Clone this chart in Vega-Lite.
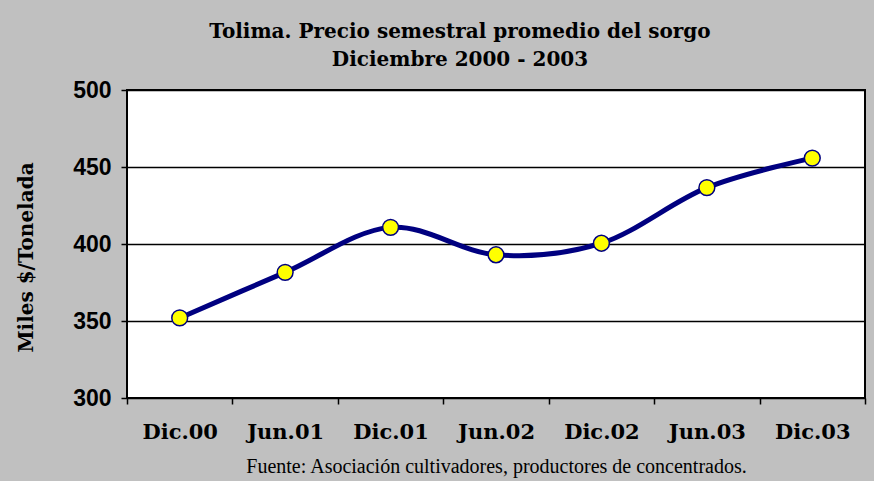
{
  "$schema": "https://vega.github.io/schema/vega-lite/v6.json",
  "autosize": "none",
  "width": 738,
  "height": 308,
  "padding": {"left": 127, "top": 90, "right": 9, "bottom": 83},
  "background": "#C0C0C0",
  "title": {
    "text": ["Tolima. Precio semestral promedio del sorgo", "Diciembre 2000 - 2003"],
    "font": "DejaVu Serif",
    "fontSize": 20,
    "fontWeight": "bold",
    "color": "#000000",
    "anchor": "middle",
    "dx": -36,
    "offset": 9,
    "lineHeight": 28
  },
  "config": {
    "view": {"fill": "#FFFFFF", "stroke": "#000000", "strokeWidth": 2}
  },
  "data": {
    "values": [
      {"periodo": "Dic.00", "precio": 352},
      {"periodo": "Jun.01", "precio": 381.6},
      {"periodo": "Dic.01", "precio": 410.8},
      {"periodo": "Jun.02", "precio": 393},
      {"periodo": "Dic.02", "precio": 400.5},
      {"periodo": "Jun.03", "precio": 436.6},
      {"periodo": "Dic.03", "precio": 455.8}
    ]
  },
  "encoding": {
    "x": {
      "field": "periodo",
      "type": "nominal",
      "sort": null,
      "scale": {"type": "band", "paddingInner": 0, "paddingOuter": 0},
      "axis": {
        "title": "Fuente: Asociación cultivadores, productores de concentrados.",
        "titleFont": "Liberation Serif",
        "titleFontWeight": "normal",
        "titleFontSize": 20,
        "titleColor": "#000000",
        "titlePadding": 14,
        "labelAngle": 0,
        "labelFont": "DejaVu Serif",
        "labelFontWeight": "bold",
        "labelFontSize": 21,
        "labelColor": "#000000",
        "labelPadding": 17,
        "tickBand": "extent",
        "tickColor": "#000000",
        "tickWidth": 1.5,
        "tickSize": 6,
        "domain": false,
        "grid": false
      }
    },
    "y": {
      "field": "precio",
      "type": "quantitative",
      "scale": {"domain": [300, 500], "nice": false, "zero": false},
      "axis": {
        "title": "Miles $/Tonelada",
        "titleFont": "DejaVu Serif",
        "titleFontWeight": "bold",
        "titleFontSize": 20,
        "titleColor": "#000000",
        "titlePadding": 36,
        "titleY": 167,
        "values": [300, 350, 400, 450, 500],
        "labelFont": "Liberation Sans",
        "labelFontWeight": "bold",
        "labelFontSize": 23,
        "labelColor": "#000000",
        "labelPadding": 10,
        "tickColor": "#000000",
        "tickWidth": 1.5,
        "tickSize": 6,
        "domain": false,
        "grid": true,
        "gridColor": "#000000",
        "gridWidth": 1.5
      }
    }
  },
  "layer": [
    {
      "mark": {"type": "line", "interpolate": "cardinal", "color": "#000080", "strokeWidth": 5}
    },
    {
      "mark": {"type": "point", "filled": true, "fill": "#FFFF00", "stroke": "#000080", "strokeWidth": 1.5, "size": 250, "opacity": 1}
    }
  ]
}
